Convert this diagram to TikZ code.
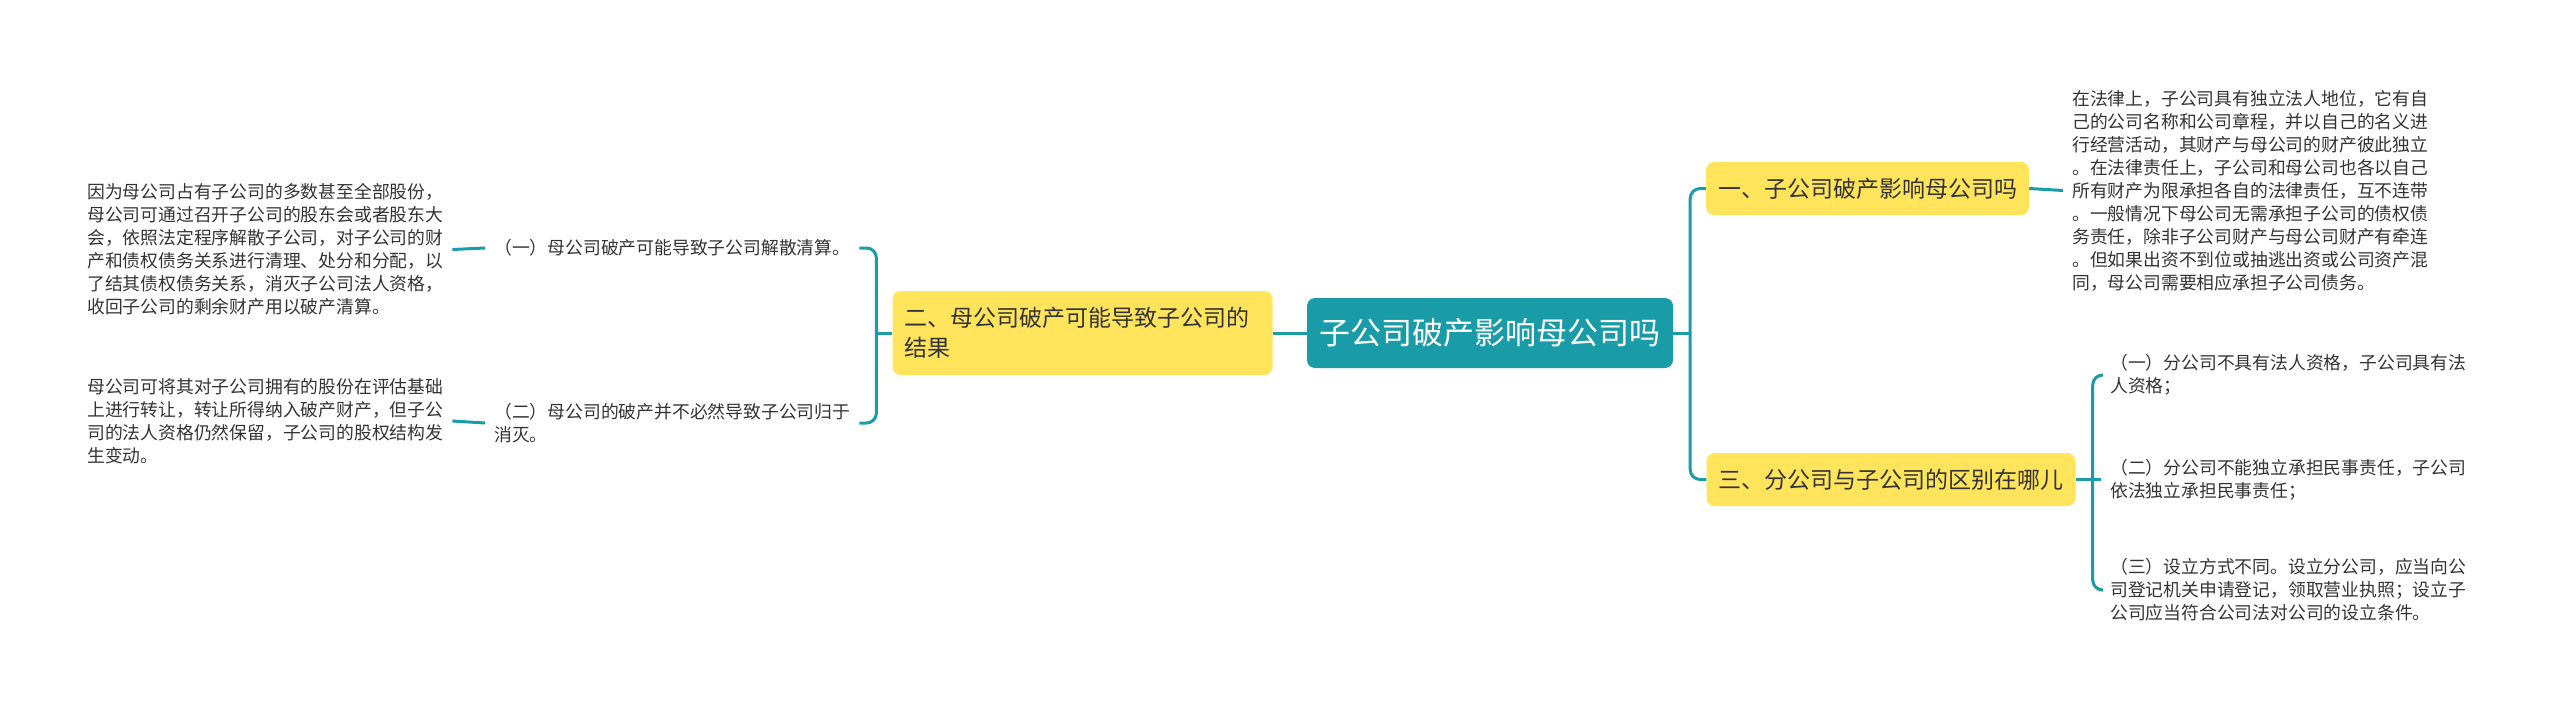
\documentclass[tikz,border=0pt]{standalone}
\usepackage{fontspec}
\usepackage{tikz}
\usetikzlibrary{positioning}
\usepackage{xcolor}
\newfontfamily\cjk{Noto Sans CJK SC}
\newcommand{\rootfont}{\cjk\fontsize{31}{38}\selectfont}
\newcommand{\branchfont}{\cjk\fontsize{23}{30}\selectfont}
\newcommand{\leaffont}{\cjk\fontsize{17.8}{23}\selectfont}
\definecolor{teal1}{HTML}{1A9BA8}
\definecolor{yel}{HTML}{FFE45C}
\definecolor{txt}{HTML}{333333}

\begin{document}
\begin{tikzpicture}[x=1pt, y=-1pt,
  root/.style = {fill=teal1, rounded corners=8pt, text=white, font=\rootfont, minimum width=366pt, minimum height=70pt},
  branch/.style = {fill=yel, rounded corners=8pt, text=txt, font=\branchfont, minimum height=53pt, inner xsep=12pt},
  leaf/.style = {text=txt, font=\leaffont, align=left, inner xsep=9pt, inner ysep=3pt, anchor=west},
  link/.style = {draw=teal1, line width=3pt}]
\useasboundingbox (0,0) rectangle (2560,707);

\node[root] (root) at (1490,333) {子公司破产影响母公司吗};
\node[branch, align=left, text width=356pt, minimum height=84pt] (b2) [left=34pt of root] {二、母公司破产可能导致子公司的\\结果};
\node[branch, minimum width=321pt] (b1) at (1867.5,188.5) {一、子公司破产影响母公司吗};
\node[branch, minimum width=368pt] (b3) at (1891,479.5) {三、分公司与子公司的区别在哪儿};

\node[leaf] (s1) at (485,248) {（一）母公司破产可能导致子公司解散清算。};
\node[leaf] (s2) at (485,423) {（二）母公司的破产并不必然导致子公司归于\\消灭。};
\node[leaf] (t1) at (78,249.5) {因为母公司占有子公司的多数甚至全部股份，\\母公司可通过召开子公司的股东会或者股东大\\会，依照法定程序解散子公司，对子公司的财\\产和债权债务关系进行清理、处分和分配，以\\了结其债权债务关系，消灭子公司法人资格，\\收回子公司的剩余财产用以破产清算。};
\node[leaf] (t2) at (78,421) {母公司可将其对子公司拥有的股份在评估基础\\上进行转让，转让所得纳入破产财产，但子公\\司的法人资格仍然保留，子公司的股权结构发\\生变动。};

\node[leaf] (c1) at (2063,190.5) {在法律上，子公司具有独立法人地位，它有自\\己的公司名称和公司章程，并以自己的名义进\\行经营活动，其财产与母公司的财产彼此独立\\。在法律责任上，子公司和母公司也各以自己\\所有财产为限承担各自的法律责任，互不连带\\。一般情况下母公司无需承担子公司的债权债\\务责任，除非子公司财产与母公司财产有牵连\\。但如果出资不到位或抽逃出资或公司资产混\\同，母公司需要相应承担子公司债务。};
\node[leaf] (d1) at (2101,375) {（一）分公司不具有法人资格，子公司具有法\\人资格；};
\node[leaf] (d2) at (2101,479.5) {（二）分公司不能独立承担民事责任，子公司\\依法独立承担民事责任；};
\node[leaf] (d3) at (2101,590) {（三）设立方式不同。设立分公司，应当向公\\司登记机关申请登记，领取营业执照；设立子\\公司应当符合公司法对公司的设立条件。};

\coordinate (fR) at ([xshift=17pt]root.east);
\coordinate (fL) at ([xshift=-16pt]b2.west);
\coordinate (fD) at ([xshift=17pt]b3.east);

\draw[link] (root.west) -- (b2.east);
\draw[link] (root.east) -- (fR);
\draw[link, rounded corners=10pt] (b1.west) -| (fR) |- (b3.west);

\draw[link, rounded corners=10pt] (s1.east) -| (fL) |- (s2.east);
\draw[link] (b2.west) -- (fL);
\draw[link] (s1.west) -- (t1.east);
\draw[link] (s2.west) -- (t2.east);

\draw[link] (b1.east) -- (c1.west);
\draw[link, rounded corners=10pt] (d1.west) -| (fD) |- (d3.west);
\draw[link] (b3.east) -- (d2.west);
\end{tikzpicture}
\end{document}
